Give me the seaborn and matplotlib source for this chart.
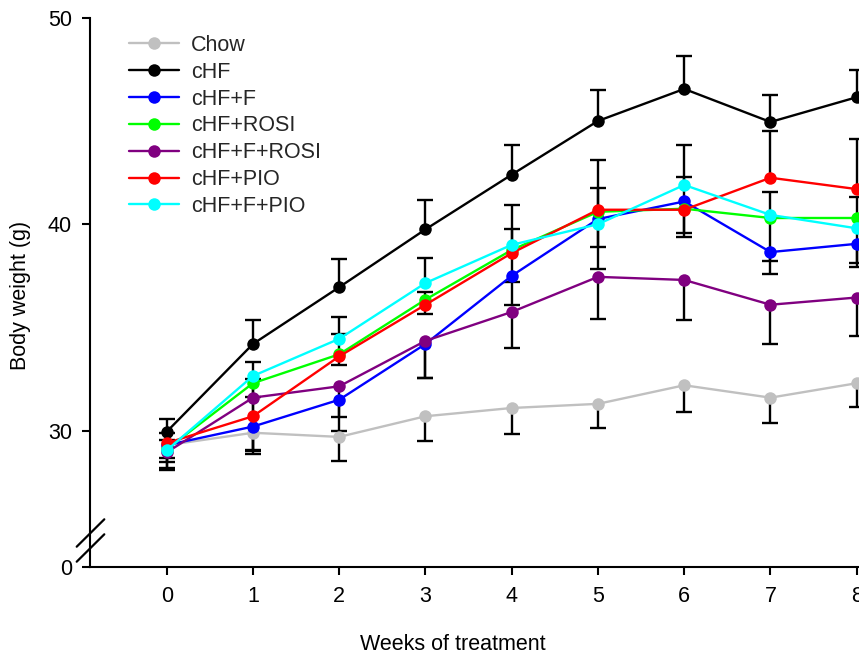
import numpy as np
import pandas as pd
import matplotlib
matplotlib.use("Agg")
import matplotlib.pyplot as plt
from matplotlib.lines import Line2D
import seaborn as sns

# ---------------- data ----------------
weeks = [0, 1, 2, 3, 4, 5, 6, 7, 8]
groups = ["Chow", "cHF", "cHF+F", "cHF+ROSI", "cHF+F+ROSI", "cHF+PIO", "cHF+F+PIO"]

chow      = [29.3, 29.9, 29.7, 30.7, 31.1, 31.3, 32.2, 31.6, 32.3]
chf       = [29.95, 34.2, 36.95, 39.75, 42.4, 45.0, 46.55, 44.95, 46.15]
chf_f     = [29.3, 30.2, 31.5, 34.2, 37.5, 40.25, 41.1, 38.65, 39.05]
chf_rosi  = [29.1, 32.3, 33.7, 36.35, 38.75, 40.6, 40.75, 40.3, 40.3]
chf_f_rosi = [28.95, 31.6, 32.15, 34.35, 35.75, 37.45, 37.3, 36.1, 36.45]
chf_pio   = [29.4, 30.7, 33.6, 36.1, 38.6, 40.7, 40.7, 42.25, 41.7]
chf_f_pio = [29.05, 32.65, 34.45, 37.15, 39.0, 40.0, 41.9, 40.45, 39.8]

# error (SEM), drawn one-sided
chow_err       = [1.1, 0.9, 1.15, 1.2, 1.25, 1.15, 1.3, 1.25, 1.15]
chf_err        = [0.6, 1.15, 1.35, 1.4, 1.45, 1.5, 1.6, 1.3, 1.3]
chf_f_err      = [0.6, 1.35, 1.5, 1.65, 1.4, 2.4, 1.7, 1.05, 1.1]
chf_rosi_err   = [1.0, 0.65, 0.5, 0.7, 1.55, 1.7, 1.2, 2.1, 2.2]
chf_f_rosi_err = [0.45, 2.55, 1.5, 1.8, 1.75, 2.05, 1.95, 1.9, 1.85]
chf_pio_err    = [0.5, 1.8, 1.1, 0.6, 1.15, 2.4, 1.6, 2.25, 2.45]
chf_f_pio_err  = [0.5, 0.7, 1.05, 1.2, 1.95, 1.75, 1.95, 1.1, 1.5]

means = [chow, chf, chf_f, chf_rosi, chf_f_rosi, chf_pio, chf_f_pio]
errs = [chow_err, chf_err, chf_f_err, chf_rosi_err, chf_f_rosi_err, chf_pio_err, chf_f_pio_err]
direction = [-1, 1, -1, -1, -1, 1, 1]

colors = ["#c0c0c0", "#000000", "#0000ff", "#00ff00", "#800080", "#ff0000", "#00ffff"]

ytick_labels = ["0", "30", "40", "50"]
xlabel = "Weeks of treatment"
ylabel = "Body weight (g)"

# ---------------- style ----------------
sns.set_theme(style="ticks")
plt.rcParams["font.family"] = ["Liberation Sans", "DejaVu Sans"]
FS = 15.5

W, H = 859, 654
fig = plt.figure(figsize=(W / 100, H / 100), dpi=100)
ax_left, ax_right, ax_top, ax_bottom = 89.5, 899.0, 17.7, 567.3
ax = fig.add_axes([ax_left / W, 1 - ax_bottom / H, (ax_right - ax_left) / W, (ax_bottom - ax_top) / H])

ybot = 23.385
ax.set_xlim(-0.895, 8.49)
ax.set_ylim(ybot, 50)

df = pd.DataFrame({
    "week": np.tile(weeks, len(groups)),
    "weight": np.concatenate(means),
    "group": np.repeat(groups, len(weeks)),
})

# error bars (behind lines)
for m, e, d in zip(means, errs, direction):
    m = np.asarray(m)
    ends = m + d * np.asarray(e)
    ax.vlines(weeks, m, ends, color="black", lw=1.7, zorder=1.5)
    ax.plot(weeks, ends, ls="none", marker="_", ms=12, mew=1.7, color="black", zorder=1.5)

sns.lineplot(data=df, x="week", y="weight", hue="group", hue_order=groups,
             palette=colors, marker="o", markersize=9, markeredgewidth=0,
             linewidth=1.7, ax=ax, legend=False, zorder=3)

handles = [Line2D([], [], color=c, lw=1.7, marker="o", ms=9, mew=0) for c in colors]
ax.legend(handles, groups, loc="upper left", bbox_to_anchor=(129 / W, 1 - 35 / H),
          bbox_transform=fig.transFigure, frameon=False, fontsize=FS,
          handlelength=2.33, handletextpad=0.54, labelspacing=0.27,
          borderpad=0, borderaxespad=0)

ax.set_xticks(weeks)
ax.set_xticklabels([str(w) for w in weeks])
ax.set_yticks([ybot, 30, 40, 50])
ax.set_yticklabels(ytick_labels)
ax.tick_params(axis="both", direction="out", length=5.6, width=1.5, labelsize=FS,
               color="black", labelcolor="black")
ax.tick_params(axis="y", pad=7)
ax.tick_params(axis="x", pad=8)

for s in ["top", "right"]:
    ax.spines[s].set_visible(False)
for s in ["left", "bottom"]:
    ax.spines[s].set_linewidth(1.5)
    ax.spines[s].set_color("black")

ax.set_xlabel(xlabel, fontsize=FS, color="black")
ax.set_ylabel(ylabel, fontsize=FS, color="black")
ax.xaxis.set_label_coords((453 - ax_left) / (ax_right - ax_left), (ax_bottom - 644) / (ax_bottom - ax_top))
ax.xaxis.label.set_va("center")
ax.yaxis.set_label_coords((20 - ax_left) / (ax_right - ax_left), (ax_bottom - 295) / (ax_bottom - ax_top))
ax.yaxis.label.set_va("center")

# axis break marks
for (x0, y0, x1, y1) in [(76.7, 546.7, 104.3, 519.3), (76.7, 561.7, 104.3, 534.3)]:
    fig.add_artist(Line2D([x0 / W, x1 / W], [1 - y0 / H, 1 - y1 / H],
                          transform=fig.transFigure, color="black", lw=1.6))

ax.set_facecolor("white")
fig.patch.set_facecolor("white")
fig.savefig("out.png", dpi=100)
